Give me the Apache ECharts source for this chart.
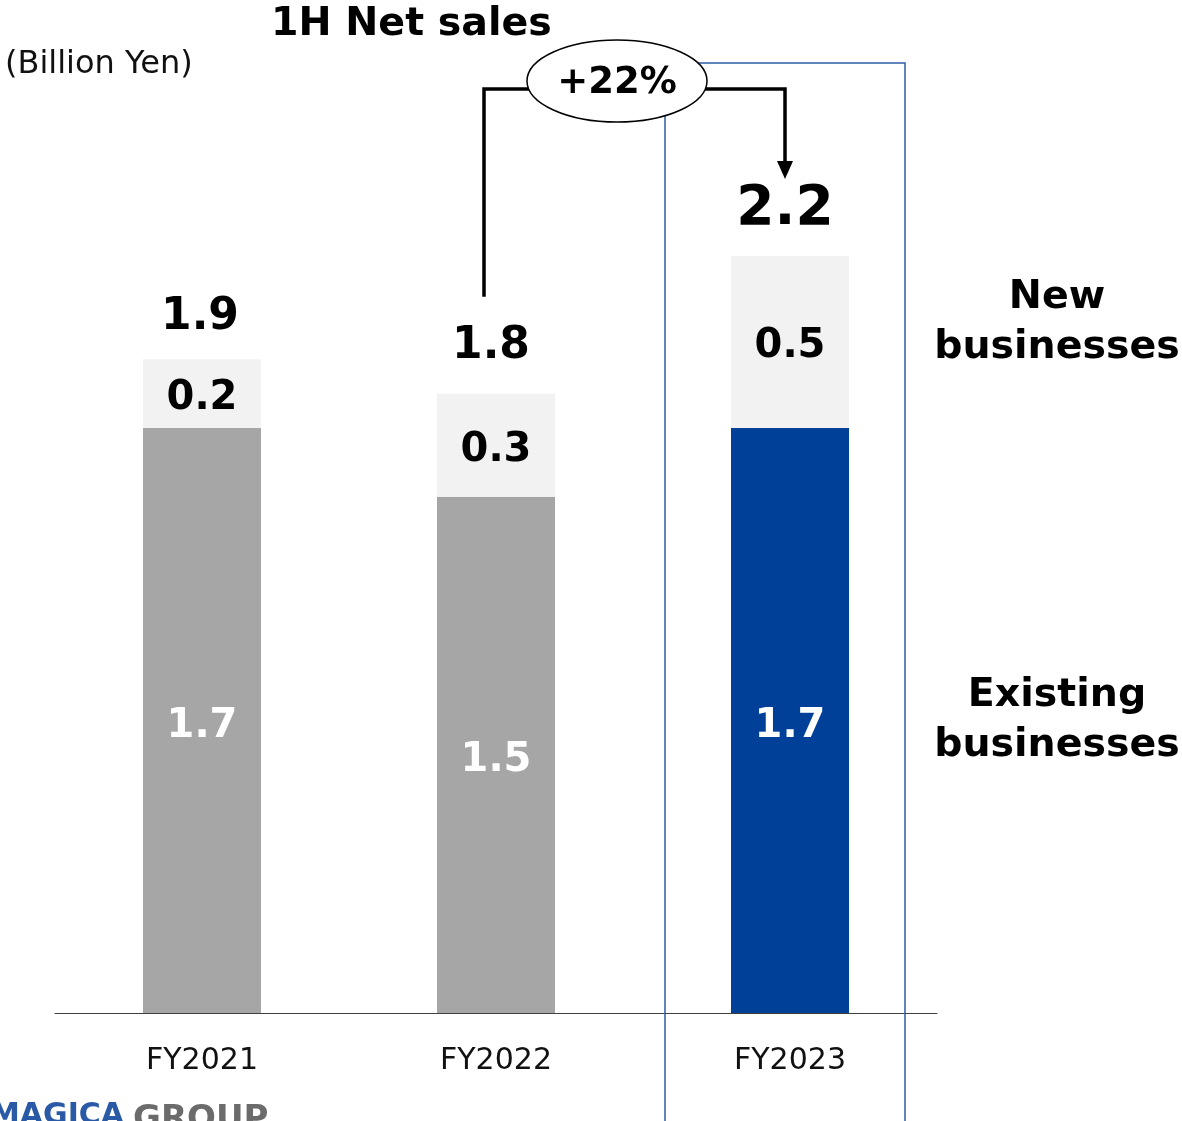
<!DOCTYPE html>
<html>
<head>
<meta charset="utf-8">
<script src="https://cdn.jsdelivr.net/npm/echarts@6/dist/echarts.min.js"></script>
<style>
  html, body { margin: 0; padding: 0; background: #fff; }
  #chart { width: 1182px; height: 1121px; }
</style>
</head>
<body>
<div id="chart"></div>
<script>
// 1H net sales, billion yen
const categories = ['FY2021', 'FY2022', 'FY2023'];
const existing = [1.7, 1.5, 1.7];
const newBiz = [0.2, 0.3, 0.5];
const totals = [1.9, 1.8, 2.2];
const growthLabel = '+22%';

const FONT = '"DejaVu Sans", Verdana, sans-serif';
const GRAY = '#a6a6a6';
const LIGHT = '#f2f2f2';
const BLUE = '#004098';
const FRAME = '#2f5ca6';

const chart = echarts.init(document.getElementById('chart'), null, { renderer: 'canvas' });

const option = {
  animation: false,
  backgroundColor: '#fff',
  grid: { left: 55, right: 245, top: 256, bottom: 108, containLabel: false },
  xAxis: {
    type: 'category',
    data: categories,
    axisLine: { lineStyle: { color: '#404040', width: 1 } },
    axisTick: { show: false },
    axisLabel: { color: '#111', fontSize: 30, fontFamily: FONT, margin: 33 }
  },
  yAxis: { type: 'value', min: 0, max: 2.2, show: false, splitLine: { show: false } },
  series: [
    {
      name: 'Existing businesses',
      type: 'bar',
      stack: 'sales',
      barWidth: 118,
      data: existing.map((v, i) => ({
        value: v,
        itemStyle: { color: i === 2 ? BLUE : GRAY }
      })),
      label: {
        show: true, position: 'inside', color: '#fff', offset: [0, 6],
        fontSize: 40, fontWeight: 'bold', fontFamily: FONT
      },
      z: 3
    },
    {
      name: 'New businesses',
      type: 'bar',
      stack: 'sales',
      barWidth: 118,
      itemStyle: { color: LIGHT },
      data: newBiz,
      label: {
        show: true, position: 'inside', color: '#000', offset: [0, 5],
        fontSize: 40, fontWeight: 'bold', fontFamily: FONT
      },
      z: 3
    },
    {
      name: 'Total',
      type: 'scatter',
      symbolSize: 0,
      silent: true,
      itemStyle: { opacity: 1, color: '#000' },
      data: totals.map((v, i) => ({
        value: v,
        label: i === 2
          ? { fontSize: 55, distance: 19, offset: [-5, 0] }
          : { fontSize: 44, distance: i === 0 ? 20 : 25, offset: [i === 0 ? -2 : -5, 0] }
      })),
      label: {
        show: true, position: 'top', color: '#000',
        fontWeight: 'bold', fontFamily: FONT,
        formatter: p => p.value.toFixed(1)
      },
      emphasis: { disabled: true },
      z: 4
    }
  ]
};
chart.setOption(option);

// Annotations: frame around the latest year, growth bubble and connector arrows
function drawAnnotations() {
  const px = (i, v) => chart.convertToPixel({ gridIndex: 0 }, [i, v]);
  const [x22] = px(1, 0);
  const [x23] = px(2, 0);
  const top22 = px(1, totals[1])[1];
  const top23 = px(2, totals[2])[1];

  const ex = 617, ey = 81, rx = 90, ry = 41;
  const lineY = 89;
  const leftX = x22 - 12;
  const rightX = x23 - 5;

  chart.setOption({
    graphic: [
      {
        type: 'text', left: 5, top: 49, z: 10,
        style: { text: '(Billion Yen)', fontSize: 32, fontFamily: FONT, fill: '#111' }
      },
      {
        type: 'text', left: 271, top: 5, z: 10,
        style: { text: '1H Net sales', fontSize: 39.5, fontWeight: 'bold', fontFamily: FONT, fill: '#000' }
      },
      {
        type: 'rect', z: 1, silent: true,
        shape: { x: x23 - 125, y: 63, width: 240, height: 1100 },
        style: { fill: 'none', stroke: FRAME, lineWidth: 1.5 }
      },
      {
        type: 'polyline', z: 5, silent: true,
        shape: { points: [[leftX, top22 - 97], [leftX, lineY], [ex - rx + 2, lineY]] },
        style: { fill: 'none', stroke: '#000', lineWidth: 3.5 }
      },
      {
        type: 'polyline', z: 5, silent: true,
        shape: { points: [[ex + rx - 2, lineY], [rightX, lineY], [rightX, top23 - 92]] },
        style: { fill: 'none', stroke: '#000', lineWidth: 3.5 }
      },
      {
        type: 'polygon', z: 5, silent: true,
        shape: { points: [[rightX - 8, top23 - 95], [rightX + 8, top23 - 95], [rightX, top23 - 77]] },
        style: { fill: '#000' }
      },
      {
        type: 'ellipse', z: 6, silent: true,
        shape: { cx: ex, cy: ey, rx: rx, ry: ry },
        style: { fill: '#fff', stroke: '#000', lineWidth: 1.5 }
      },
      {
        type: 'text', z: 7, silent: true,
        x: ex, y: ey + 2,
        style: {
          text: growthLabel, fontSize: 37, fontWeight: 'bold', fontFamily: FONT,
          fill: '#000', align: 'center', verticalAlign: 'middle'
        }
      },
      {
        type: 'text', z: 7, x: 1057, y: 323,
        style: {
          text: 'New\nbusinesses', fontSize: 39.5, fontWeight: 'bold', fontFamily: FONT,
          fill: '#000', align: 'center', verticalAlign: 'middle', lineHeight: 50
        }
      },
      {
        type: 'text', z: 7, x: 1057, y: 721,
        style: {
          text: 'Existing\nbusinesses', fontSize: 39.5, fontWeight: 'bold', fontFamily: FONT,
          fill: '#000', align: 'center', verticalAlign: 'middle', lineHeight: 50
        }
      },
      {
        type: 'text', z: 7, x: -10, y: 1101,
        style: {
          text: 'MAGICA', fontSize: 30, fontWeight: 'bold', fontFamily: FONT,
          fill: '#2a5aa6'
        }
      },
      {
        type: 'text', z: 7, x: 133, y: 1103,
        style: {
          text: 'GROUP', fontSize: 34, fontWeight: 'bold', fontFamily: FONT,
          fill: '#6b6b6b'
        }
      }
    ]
  });
}
drawAnnotations();
</script>
</body>
</html>
